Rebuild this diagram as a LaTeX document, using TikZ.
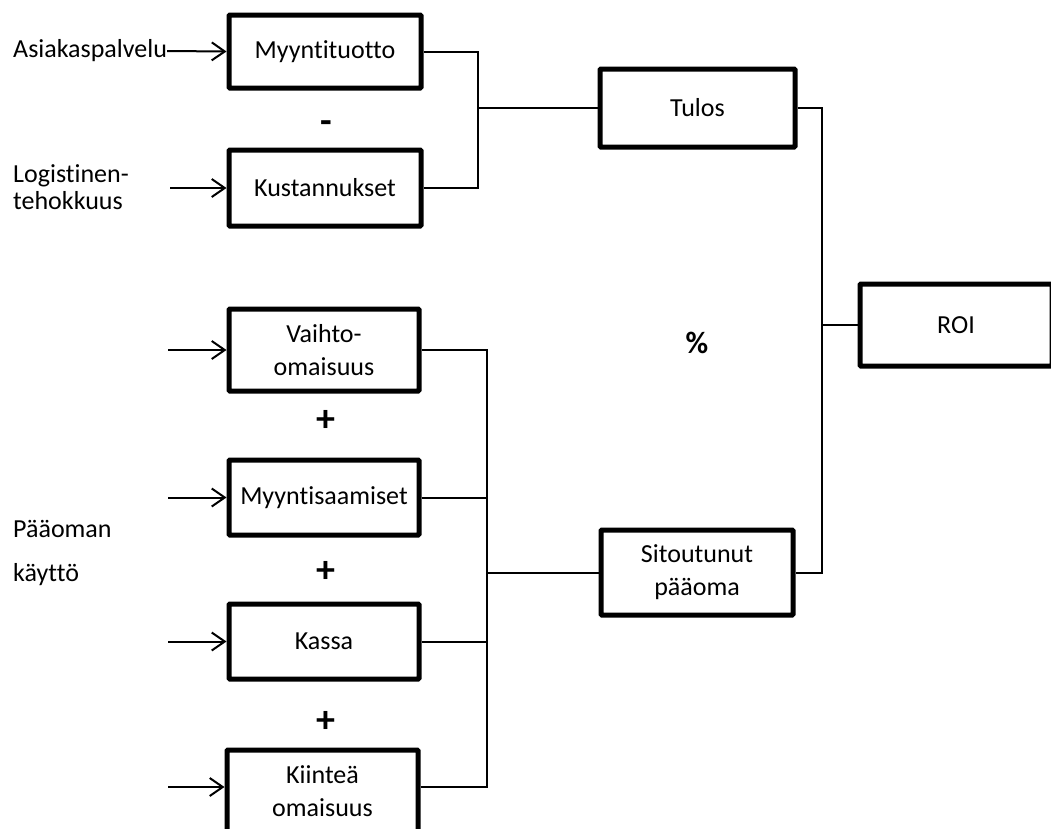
\documentclass[tikz,border=0pt]{standalone}
\usepackage{fontspec}
\setmainfont{Carlito}[Ligatures={NoCommon}]
\usetikzlibrary{arrows.meta}

\begin{document}
\begin{tikzpicture}[x=1pt,y=-1pt,
  font=\fontsize{26}{33}\selectfont,
  block/.style={draw, line width=5pt, rounded corners=1pt, align=center,
                inner sep=0pt},
  link/.style={line width=2pt},
  feed/.style={line width=2pt, -{Straight Barb[length=13pt,width=18pt]}},
  label/.style={inner sep=0pt, anchor=west, align=left},
  sign/.style={inner sep=0pt, font=\fontsize{38}{40}\selectfont\bfseries}]

\useasboundingbox (0,0) rectangle (1051,828);

% result side
\node[block, minimum width=192pt, minimum height=73pt] (myynti) at (325,51.5) {Myyntituotto};
\node[block, minimum width=192pt, minimum height=76pt] (kust)   at (325,188)  {Kustannukset};
\node[block, minimum width=195pt, minimum height=78pt] (tulos)  at (697.5,108) {Tulos};

% capital side
\node[block, minimum width=190pt, minimum height=82pt] (vaihto)  at (324,350)   {Vaihto-\\omaisuus};
\node[block, minimum width=190pt, minimum height=75pt] (saam)    at (324,497.5) {Myyntisaamiset};
\node[block, minimum width=190pt, minimum height=75pt] (kassa)   at (324,641.5) {Kassa};
\node[block, minimum width=191pt, minimum height=82pt] (kiintea) at (322.5,791) {Kiinteä\\omaisuus};
\node[block, minimum width=192pt, minimum height=85pt] (sitout)  at (697,572.5) {Sitoutunut\\pääoma};

% overall ratio
\node[block, minimum width=192pt, minimum height=82pt] (roi) at (956,325) {ROI};

% driver labels
\node[label] (asiakas) at (13,51) {Asiakaspalvelu};
\node[label, font=\fontsize{26}{27}\selectfont] (logist) at (13,187) {Logistinen-\\tehokkuus};
\node[label, font=\fontsize{26}{44}\selectfont] (paaoma) at (13,553) {Pääoman\\käyttö};

% operators
\node[sign] (minus) at (326,127) {-};
\node[sign] (plus1) at (326,421) {+};
\node[sign] (plus2) at (326,572) {+};
\node[sign] (plus3) at (326,722) {+};
\node[sign, font=\fontsize{31}{34}\selectfont\bfseries] (pct) at (697,343) {\%};

% input arrows
\coordinate (in2) at (170,188);
\coordinate (in3) at (168,350);
\coordinate (in4) at (168,497.5);
\coordinate (in5) at (168,641.5);
\coordinate (in6) at (168,787);
\draw[feed] (asiakas.east) -- (myynti.west);
\draw[feed] (in2) -- (kust.west);
\draw[feed] (in3) -- (vaihto.west);
\draw[feed] (in4) -- (saam.west);
\draw[feed] (in5) -- (kassa.west);
\draw[feed] (in6) -- (kiintea.west |- in6);

% result junction
\coordinate (jt) at (478,108);
\draw[link] (myynti.east) -| (jt) |- (kust.east);
\draw[link] (jt) -- (tulos.west);

% capital junction
\coordinate (jc) at (487,572.5);
\draw[link] (vaihto.east) -| (jc);
\draw[link] (saam.east) -- (saam.east -| jc);
\draw[link] (kassa.east) -- (kassa.east -| jc);
\draw[link] (kiintea.east |- in6) -| (jc);
\draw[link] (jc) -- (sitout.west);

% ratio junction
\coordinate (jr) at (822,325);
\draw[link] (tulos.east) -| (jr) |- (sitout.east);
\draw[link] (jr) -- (roi.west);

\end{tikzpicture}
\end{document}
